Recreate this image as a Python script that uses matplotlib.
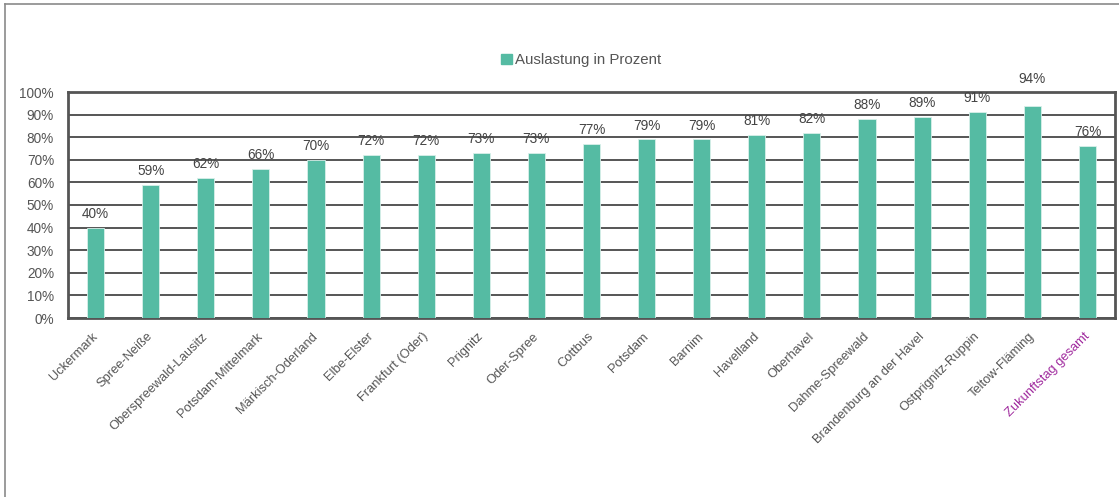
import matplotlib
matplotlib.use("Agg")
import matplotlib.pyplot as plt
from matplotlib.lines import Line2D
from matplotlib.patches import Patch

plt.rcParams["font.family"] = ["Liberation Sans", "DejaVu Sans"]

regions = ["Uckermark", "Spree-Neiße", "Oberspreewald-Lausitz", "Potsdam-Mittelmark",
           "Märkisch-Oderland", "Elbe-Elster", "Frankfurt (Oder)", "Prignitz", "Oder-Spree",
           "Cottbus", "Potsdam", "Barnim", "Havelland", "Oberhavel", "Dahme-Spreewald",
           "Brandenburg an der Havel", "Ostprignitz-Ruppin", "Teltow-Fläming",
           "Zukunftstag gesamt"]
auslastung = [40, 59, 62, 66, 70, 72, 72, 73, 73, 77, 79, 79, 81, 82, 88, 89, 91, 94, 76]
yticks = list(range(0, 101, 10))

BAR = "#55BBA3"
GRID = "#555555"
TXT = "#555555"
PURPLE = "#A02A9E"

fig = plt.figure(figsize=(11.19, 4.97), dpi=100)
# outer frame (top and left visible only)
fig.add_artist(Line2D([5 / 1119, 1.2], [1 - 4 / 497, 1 - 4 / 497], color="#8a8a8a", lw=1.2))
fig.add_artist(Line2D([5 / 1119, 5 / 1119], [-0.2, 1 - 4 / 497], color="#8a8a8a", lw=1.2))

ax = fig.add_axes([68 / 1119, 1 - 318 / 497, (1115 - 68) / 1119, (318 - 92) / 497])
x = list(range(len(regions)))
ax.bar(x, auslastung, width=0.31, color=BAR, edgecolor="#d8f0ea", linewidth=0.6, zorder=3)
ax.set_xlim(-0.5, len(regions) - 0.5)
ax.set_ylim(0, 100)
ax.set_yticks(yticks)
ax.set_yticklabels([f"{v}%" for v in yticks], fontsize=9.8, color=TXT)
ax.yaxis.grid(True, color=GRID, lw=1.4, zorder=0)
ax.set_axisbelow(True)
ax.tick_params(axis="both", length=0)
ax.tick_params(axis="y", pad=10)
for s in ax.spines.values():
    s.set_color(GRID)
    s.set_linewidth(2)

for xi, v in zip(x, auslastung):
    ax.annotate(f"{v}%", (xi, v), xytext=(0, 5 if v < 93 else 14), textcoords="offset points",
                ha="center", va="bottom", fontsize=9.8, color="#444444", clip_on=False)

ax.set_xticks(x)
ax.set_xticklabels(regions, rotation=45, ha="right", va="center", rotation_mode="anchor",
                   fontsize=9.3, color=TXT)
ax.get_xticklabels()[-1].set_color(PURPLE)
ax.tick_params(axis="x", pad=12)

leg = fig.legend(handles=[Patch(color=BAR, label="Auslastung in Prozent")],
                 loc="center", bbox_to_anchor=(581 / 1119, 1 - 60 / 497), frameon=False,
                 fontsize=10.8, handlelength=0.7, handleheight=0.7, handletextpad=0.2)
for t in leg.get_texts():
    t.set_color(TXT)

fig.savefig("out.png", dpi=100, facecolor="white")
